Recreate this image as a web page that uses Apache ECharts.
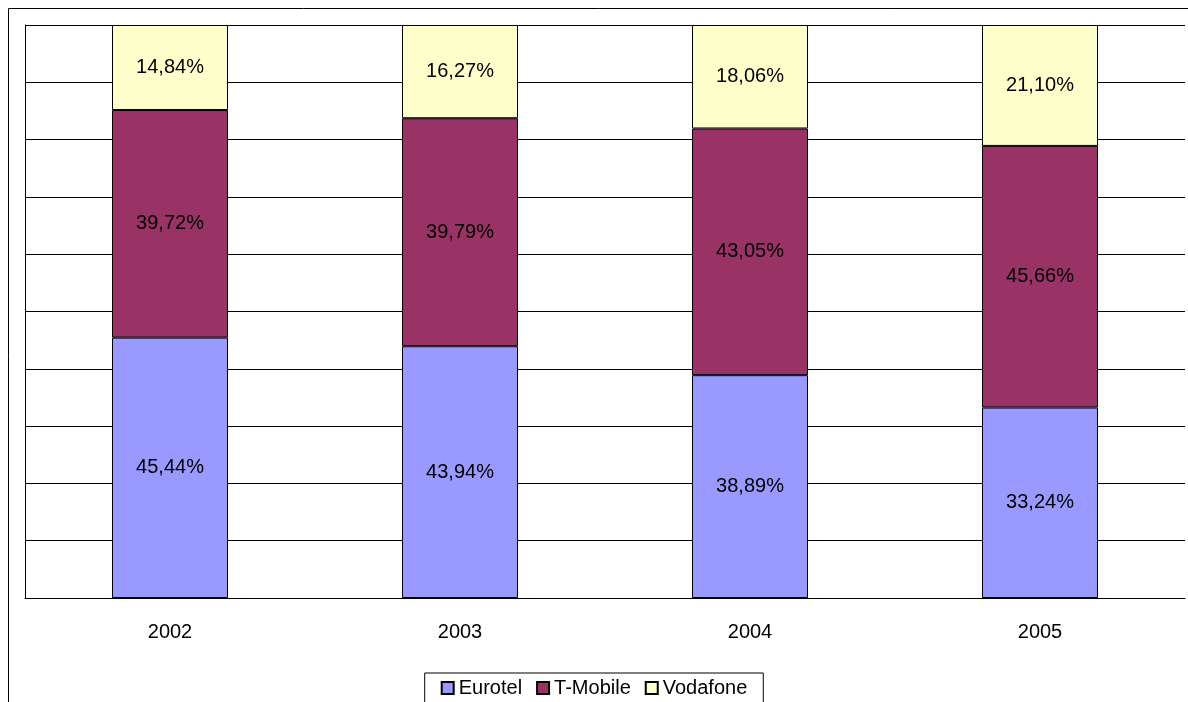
<!DOCTYPE html>
<html><head><meta charset="utf-8">
<script src="https://cdn.jsdelivr.net/npm/echarts@6/dist/echarts.min.js"></script>
<style>html,body{margin:0;padding:0;background:#fff}#main{width:1188px;height:702px}</style>
</head><body><div id="main"></div>
<script>
var myChart = echarts.init(document.getElementById('main'));
var years = ['2002', '2003', '2004', '2005'];
var eurotel = [45.44, 43.94, 38.89, 33.24];
var tmobile = [39.72, 39.79, 43.05, 45.66];
var vodafone = [14.84, 16.27, 18.06, 21.10];

function fmt(p) { return p.value.toFixed(2).replace('.', ',') + '%'; }
function mk(name, data, color) {
    return {
        name: name, type: 'bar', stack: 'a', barWidth: '40%', data: data,
        itemStyle: { color: color, borderColor: '#000', borderWidth: 1 },
        label: { show: true, position: 'inside', formatter: fmt, color: '#000', fontSize: 20, fontFamily: 'Liberation Sans' }
    };
}
var option = {
    animation: false,
    textStyle: { fontFamily: 'Liberation Sans' },
    graphic: [{ type: 'rect', shape: { x: 8.5, y: 8.5, width: 1300, height: 800 }, style: { fill: 'none', stroke: '#000', lineWidth: 1 } }],
    grid: { left: 25, right: 3, top: 25, bottom: 104 },
    legend: {
        bottom: -1, left: 'center', itemWidth: 12, itemHeight: 12, itemGap: 14,
        borderColor: '#000', borderWidth: 1, padding: [5, 16], borderRadius: 0,
        textStyle: { fontSize: 20, color: '#000' },
        data: [{ name: 'Eurotel', icon: 'rect' }, { name: 'T-Mobile', icon: 'rect' }, { name: 'Vodafone', icon: 'rect' }]
    },
    xAxis: {
        type: 'category', data: years,
        axisLine: { lineStyle: { color: '#000' } },
        axisTick: { lineStyle: { color: '#000' }, length: 6 },
        axisLabel: { fontSize: 20, color: '#000', margin: 24 }
    },
    yAxis: {
        type: 'value', min: 0, max: 100, interval: 10,
        axisLine: { show: true, lineStyle: { color: '#000' } },
        axisTick: { show: false },
        axisLabel: { show: false },
        splitLine: { lineStyle: { color: '#000' } }
    },
    series: [mk('Eurotel', eurotel, '#9999FF'), mk('T-Mobile', tmobile, '#993366'), mk('Vodafone', vodafone, '#FFFFCC')]
};
myChart.setOption(option);
</script></body></html>
